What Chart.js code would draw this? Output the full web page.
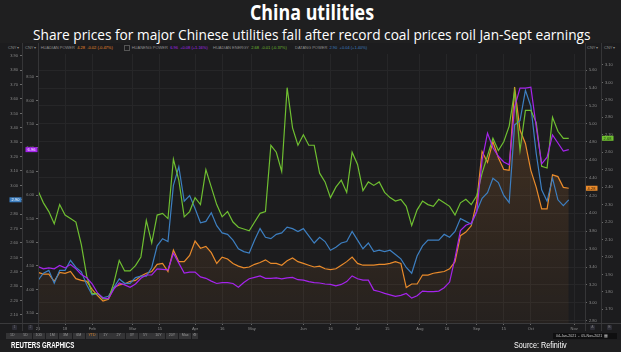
<!DOCTYPE html>
<html><head><meta charset="utf-8">
<script src="https://cdn.jsdelivr.net/npm/chart.js@4/dist/chart.umd.min.js"></script>
<style>
html,body{margin:0;padding:0;}
body{width:621px;height:352px;background:#1f1f20;position:relative;overflow:hidden;font-family:"Liberation Sans",Arial,sans-serif;}
.a{position:absolute;white-space:nowrap;}
#panel{position:absolute;left:0;top:43px;width:621px;height:297px;background:#1c1c1e;}
.t4{font-size:4px;line-height:4px;color:#8e8e8e;}
.vl{position:absolute;width:1px;background:#353537;}
.btn{position:absolute;top:333px;height:5.5px;width:12.5px;background:#343436;color:#9a9a9a;font-size:3.6px;line-height:5.5px;text-align:center;}
.bdg{position:absolute;top:325px;width:5px;height:5px;border-radius:1px;background:#2d2d36;color:#777;font-size:3.5px;line-height:5px;text-align:center;}
#c{position:absolute;left:0;top:44px;}
</style></head><body>
<div id="panel"></div>
<div class="a" id="title" style="top:0px;font:bold 22px/22px 'Open Sans';color:#fff;">China utilities</div>
<div class="a" id="sub" style="top:27.6px;font:14.5px/14.5px 'Open Sans';color:#fff;">Share prices for major Chinese utilities fall after record coal prices roil Jan-Sept earnings</div>

<div class="a t4" style="left:8px;top:45.5px;">CNY ▾</div>
<div class="a t4" style="left:25px;top:45.5px;">CNY ▾</div>
<div class="a t4" style="left:587px;top:45.5px;">CNY ▾</div>
<div class="a t4" style="left:604px;top:45.5px;">CNY ▾</div>
<div id="legend"></div>

<canvas id="c" width="621" height="288"></canvas>

<div class="vl" style="left:22px;top:43px;height:288px;"></div>
<div class="vl" style="left:38px;top:43px;height:288px;"></div>
<div class="vl" style="left:585px;top:43px;height:288px;"></div>
<div class="vl" style="left:601px;top:43px;height:288px;"></div>
<div class="a" style="left:0;top:323px;width:621px;height:1px;background:#3a3a3c;"></div>

<div class="bdg" style="left:12px;">1</div>
<div class="bdg" style="left:28px;">2</div>
<div class="bdg" style="left:590px;">A</div>
<div class="bdg" style="left:607px;">B</div>
<div id="toolbar"></div>
<div class="a" style="left:553px;top:332.5px;width:64px;height:6.5px;background:#0f0f10;color:#c8c8c8;font-size:3.6px;line-height:6.5px;text-indent:3px;">04-Jan-2021 &nbsp;- &nbsp;05-Nov-2021 &nbsp;▦</div>

<div class="a" id="reuters" style="left:10.7px;top:340.7px;font:bold 9px/9px 'Liberation Sans';color:#fff;">REUTERS GRAPHICS</div>
<div class="a" id="source" style="left:514px;top:340.7px;font:9px/9px 'Liberation Sans';color:#fff;">Source: Refinitiv</div>

<script>
// ---------- data (sampled every 2 trading days, 4 Jan 2021 onwards) ----------
const pointStep = 2;
const huadianPower = [3.34,3.32,3.32,3.24,3.34,3.33,3.35,3.27,3.25,3.24,
 3.15,3.08,3.02,3.04,3.17,3.20,3.21,3.24,3.25,3.30,
 3.33,3.35,3.43,3.44,3.35,3.59,3.46,3.46,3.53,3.69,
 3.61,3.63,3.56,3.44,3.51,3.49,3.44,3.41,3.39,3.40,
 3.43,3.45,3.48,3.44,3.44,3.42,3.47,3.50,3.46,3.44,
 3.42,3.40,3.41,3.38,3.37,3.38,3.42,3.46,3.51,3.44,
 3.42,3.42,3.42,3.43,3.43,3.44,3.46,3.44,3.17,3.21,
 3.21,3.31,3.31,3.33,3.34,3.35,3.38,3.46,3.75,3.79,
 3.86,4.13,4.69,4.57,4.80,4.62,4.49,4.48,5.41,4.93,
 4.78,4.48,4.29,4.05,4.05,4.43,4.41,4.29,4.28];
const huanengPower = [4.49,4.44,4.46,4.44,4.51,4.46,4.53,4.44,4.32,4.25,
 4.12,3.93,3.82,3.81,4.01,4.14,4.10,4.05,4.12,4.24,
 4.31,4.31,4.44,4.43,4.42,4.77,4.56,4.35,4.37,4.37,
 4.27,4.24,4.18,4.13,4.15,4.15,4.13,4.05,4.15,4.23,
 4.26,4.29,4.24,4.24,4.25,4.23,4.25,4.26,4.21,4.20,
 4.17,4.15,4.14,4.12,4.11,4.08,4.11,4.17,4.29,4.23,
 4.20,4.20,3.99,3.96,3.92,3.89,3.86,3.88,3.92,3.82,
 3.87,3.97,3.96,3.96,3.97,4.04,4.16,4.67,5.25,5.36,
 5.41,5.64,6.74,7.31,7.00,6.82,6.70,6.64,7.86,8.26,
 8.26,8.28,7.44,6.66,6.80,7.27,7.10,6.93,6.96];
const huadianEnergy = [2.38,2.31,2.26,2.19,2.30,2.24,2.22,2.20,2.07,1.89,
 1.79,1.79,1.76,1.76,1.85,1.98,1.92,1.92,1.95,2.00,
 2.21,2.08,2.24,2.25,2.22,2.56,2.44,2.23,2.26,2.34,
 2.30,2.50,2.40,2.30,2.23,2.26,2.20,2.17,2.16,2.15,
 2.20,2.25,2.26,2.64,2.60,2.49,2.97,2.74,2.64,2.70,
 2.64,2.64,2.48,2.43,2.34,2.40,2.44,2.37,2.60,2.53,
 2.38,2.43,2.41,2.43,2.37,2.34,2.32,2.33,2.29,2.18,
 2.27,2.32,2.30,2.29,2.33,2.31,2.29,2.24,2.31,2.33,
 2.30,2.35,2.48,2.58,2.68,2.61,2.66,2.75,2.95,2.61,
 2.84,2.84,2.77,2.52,2.51,2.80,2.72,2.68,2.68];
const datangPower = [2.34,2.39,2.41,2.32,2.41,2.41,2.48,2.43,2.40,2.31,
 2.24,2.25,2.22,2.23,2.29,2.35,2.32,2.32,2.36,2.37,
 2.37,2.43,2.58,2.63,2.61,3.00,3.13,2.89,2.93,2.84,
 2.74,2.75,2.81,2.72,2.67,2.66,2.62,2.56,2.54,2.53,
 2.62,2.70,2.64,2.63,2.66,2.67,2.71,2.70,2.68,2.70,
 2.65,2.60,2.64,2.61,2.55,2.57,2.60,2.61,2.68,2.62,
 2.56,2.60,2.54,2.55,2.54,2.55,2.52,2.49,2.43,2.39,
 2.51,2.58,2.62,2.62,2.62,2.66,2.64,2.68,2.77,2.75,
 2.73,2.82,2.91,2.95,3.05,3.02,2.93,2.88,3.42,3.45,
 3.66,3.55,3.22,2.97,2.89,3.05,2.90,2.86,2.90];

const seriesNames = ['HUADIAN POWER','HUANENG POWER','HUADIAN ENERGY','DATANG POWER'];
const seriesChange = ['-0.02 (-0.47%)','+0.08 (+1.16%)','-0.01 (-0.37%)','+0.04 (+1.40%)'];
const xTickDays   = [0,10,20,35,45,58,68,79,98,108,118,129,141,151,162,172,182,198];
const xTickLabels = ['21','18','Feb','Mar','15','Apr','16','May','Jun','16','Jul','15','Aug','16','Sep','15','Oct','Nov'];
const powerTicks  = [2.8,3.0,3.2,3.4,3.6,3.8,4.0,4.2,4.4,4.6,4.8,5.0,5.2,5.4,5.6];
const energyTicks = [1.7,1.8,1.9,2.0,2.1,2.2,2.3,2.4,2.5,2.6,2.7,2.8,2.9,3.0,3.1];
const datangTicks = [2.1,2.2,2.3,2.4,2.5,2.6,2.7,2.8,2.9,3.0,3.1,3.2,3.3,3.4,3.5,3.6,3.7,3.8,3.9];
const huanengTicks= [3.5,4.0,4.5,5.0,5.5,6.0,6.5,7.0,7.5,8.0,8.5];
const toolbarLabels = ['1D','5D','10D','1M','3M','6M','YTD','1Y','2Y','3Y','5Y','10Y','20Y','Max','⚙'];

// ---------- styles ----------
const ORANGE='#ea8b2b', PURPLE='#a524ec', GREEN='#6fbf31', BLUE='#3d7fc1';
const seriesColors=[ORANGE,PURPLE,GREEN,BLUE];
const lastOf = a => a[a.length-1];

// legend row
(function(){
  const lg=document.getElementById('legend');
  const vals=[huadianPower,huanengPower,huadianEnergy,datangPower];
  const xs=[40.7,131.7,213,295];
  seriesNames.forEach((n,i)=>{
    const d=document.createElement('div');
    d.className='a t4';
    d.style.left=xs[i]+'px'; d.style.top='45.5px';
    d.innerHTML=n+' &nbsp;<span style="color:'+seriesColors[i]+'">'+lastOf(vals[i]).toFixed(2)+' &nbsp;'+seriesChange[i]+'</span>';
    lg.appendChild(d);
  });
  const ic=document.createElement('div');
  ic.className='a'; ic.style.cssText='left:123.5px;top:45px;width:4px;height:4px;border:0.5px solid #555;';
  lg.appendChild(ic);
  const tb=document.getElementById('toolbar');
  toolbarLabels.forEach((t,i)=>{
    const b=document.createElement('div');
    b.className='btn'; b.style.left=(6+i*13.3)+'px';
    if(t==='YTD') b.style.color='#e0862c';
    if(t==='⚙'){b.style.width='6px';}
    b.textContent=t; tb.appendChild(b);
  });
})();

function fitW(id,left,w){
  const el=document.getElementById(id);
  const r=el.getBoundingClientRect().width;
  el.style.left=left+'px';
  el.style.transformOrigin='0 0';
  el.style.transform='scaleX('+(w/r)+')';
}
fitW('title',249.5,124);
fitW('sub',32.5,557.5);
fitW('reuters',10.7,63.3);
fitW('source',514,52.7);

// ---------- chart ----------
const pts = arr => arr.map((v,i)=>({x:i*pointStep,y:v}));
const tinyFont={family:'Liberation Sans',size:4};
const LBL='#8c8c8c', TICKC='#6a6a6a', BORDER='#353537', GRID='#262628';

function yAxis(pos,weight,min,max,ticks,width,onArea){
  return {
    type:'linear',position:pos,weight:weight,min:min,max:max,
    afterBuildTicks:s=>{s.ticks=ticks.map(v=>({value:v}));},
    afterFit:s=>{s.width=width;},
    ticks:{font:tinyFont,color:LBL,padding:2,autoSkip:false,callback:v=>v.toFixed(2)},
    grid:{drawOnChartArea:onArea,color:GRID,tickColor:TICKC,tickLength:2,lineWidth:1},
    border:{color:BORDER,width:1}
  };
}

const badgePlugin={
  id:'badges',
  afterDraw(chart){
    const c=chart.ctx;
    chart.data.datasets.forEach(ds=>{
      const s=chart.scales[ds.yAxisID];
      const v=lastOf(ds.data).y;
      const y=s.getPixelForValue(v);
      const w=12,h=5;
      const x= s.position==='left' ? s.right-w-0.5 : s.left+0.5;
      c.save();
      c.fillStyle=ds.borderColor;
      c.fillRect(x,y-h/2,w,h);
      c.fillStyle=ds.badgeText;
      c.font='4px "Liberation Sans"';
      c.textAlign='center';c.textBaseline='middle';
      c.fillText(v.toFixed(2),x+w/2,y+0.3);
      c.restore();
    });
  }
};

const ctx=document.getElementById('c').getContext('2d');
new Chart(ctx,{
  type:'line',
  data:{datasets:[
    {label:seriesNames[1],data:pts(huanengPower),yAxisID:'yHuaneng',borderColor:PURPLE,badgeText:'#fff',borderWidth:1.2,pointRadius:0,tension:0,fill:false},
    {label:seriesNames[2],data:pts(huadianEnergy),yAxisID:'yEnergy',borderColor:GREEN,badgeText:'#16300a',borderWidth:1.2,pointRadius:0,tension:0,fill:false},
    {label:seriesNames[3],data:pts(datangPower),yAxisID:'yDatang',borderColor:BLUE,badgeText:'#fff',borderWidth:1.2,pointRadius:0,tension:0,fill:false},
    {label:seriesNames[0],data:pts(huadianPower),yAxisID:'yPower',borderColor:ORANGE,badgeText:'#2a1400',borderWidth:1.2,pointRadius:0,tension:0,
      fill:'start',
      backgroundColor:(cx)=>{const ch=cx.chart,a=ch.chartArea;if(!a)return 'rgba(220,130,45,0.12)';
        const g=ch.ctx.createLinearGradient(0,a.top,0,a.bottom);
        g.addColorStop(0,'rgba(225,135,50,0.22)');g.addColorStop(1,'rgba(225,135,50,0.05)');return g;}}
  ]},
  options:{
    responsive:false,animation:false,devicePixelRatio:1,
    layout:{padding:{top:10,bottom:1,left:0,right:0}},
    plugins:{legend:{display:false},tooltip:{enabled:false}},
    scales:{
      x:{type:'linear',min:0,max:202,
        afterBuildTicks:s=>{s.ticks=xTickDays.map(v=>({value:v}));},
        afterFit:s=>{s.height=8;},
        ticks:{font:tinyFont,color:LBL,padding:1,maxRotation:0,autoSkip:false,callback:(v,i)=>xTickLabels[i]},
        grid:{color:GRID,tickColor:TICKC,tickLength:2},
        border:{color:BORDER}},
      yDatang:yAxis('left',2,2.0444,3.9125,datangTicks,22,false),
      yHuaneng:yAxis('left',1,3.2949,8.982,huanengTicks,16,false),
      yPower:yAxis('right',1,2.7743,5.780,powerTicks,16,true),
      yEnergy:yAxis('right',2,1.6215,3.163,energyTicks,20,false)
    }
  },
  plugins:[badgePlugin]
});
</script>
</body></html>
